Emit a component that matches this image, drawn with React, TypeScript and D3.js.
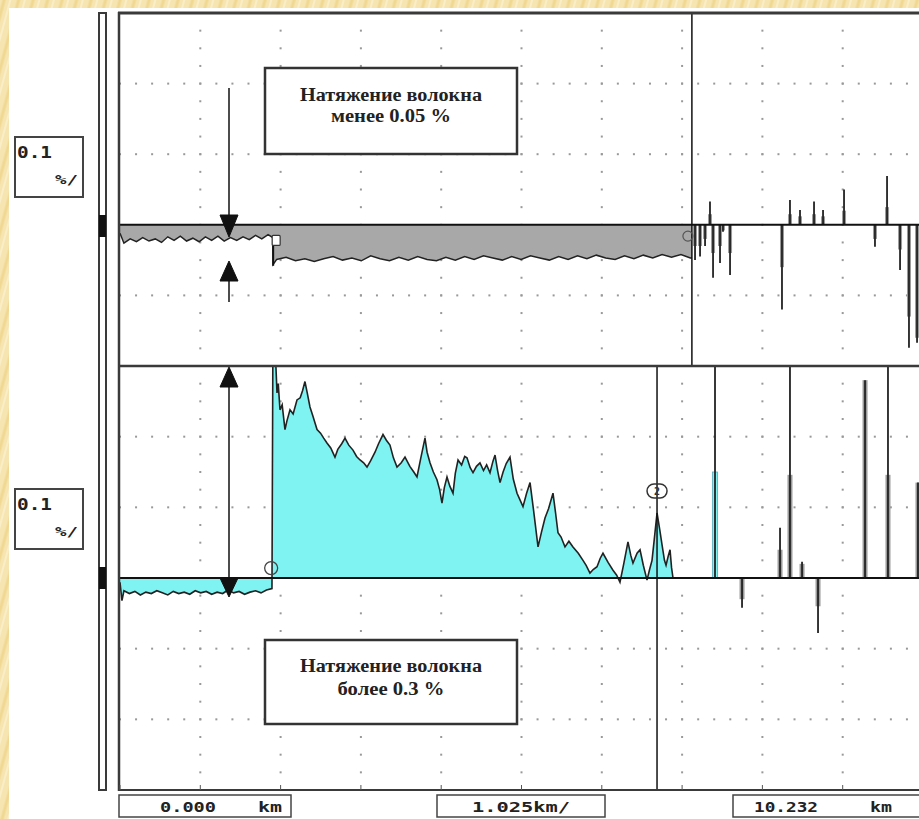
import React from 'react';
import * as d3 from 'd3';

const W = 919;
const H = 819;

// axes
const kmDomain = [0, 10.25];
const gridStepKm = 1.025;
const topDomain = [-0.2, 0.3];
const botDomain = [-0.3, 0.3];
const divPct = 0.1;
const topRows = [0.2, 0.1, -0.1];
const botRows = [0.2, 0.1, -0.1, -0.2];

// labels
const scaleLabel = ['0.1', '%/'];
const axisLabels = ['0.000', 'km', '1.025km/', '10.232', 'km'];
const topNote = ['Натяжение волокна', 'менее 0.05 %'];
const botNote = ['Натяжение волокна', 'более 0.3 %'];

// upper trace (km, %)
const topTraceKm = [
  0.0, 0.05, 0.13, 0.21, 0.29, 0.37, 0.45, 0.53, 0.61, 0.69, 0.77, 0.85, 0.93, 1.01, 1.09, 1.17, 1.25, 1.33,
  1.41, 1.49, 1.57, 1.65, 1.73, 1.81, 1.89, 1.95, 1.955,
  2.0, 2.12, 2.24, 2.36, 2.48, 2.6, 2.72, 2.84, 2.96, 3.08, 3.2, 3.32, 3.44, 3.56, 3.68, 3.8, 3.92, 4.04,
  4.16, 4.28, 4.4, 4.52, 4.64, 4.76, 4.88, 5.0, 5.12, 5.24, 5.36, 5.48, 5.6, 5.72, 5.84, 5.96, 6.08, 6.2,
  6.32, 6.44, 6.56, 6.68, 6.8, 6.92, 7.04, 7.16, 7.28, 7.3,
];
const topTraceVal = [
  -0.012, -0.026, -0.02, -0.024, -0.018, -0.023, -0.02, -0.025, -0.017, -0.022, -0.016, -0.023, -0.019, -0.024,
  -0.017, -0.022, -0.016, -0.023, -0.018, -0.022, -0.017, -0.021, -0.015, -0.02, -0.014, -0.018, -0.056,
  -0.049, -0.046, -0.051, -0.048, -0.052, -0.048, -0.045, -0.05, -0.047, -0.051, -0.044, -0.048, -0.051, -0.046,
  -0.05, -0.045, -0.049, -0.051, -0.046, -0.05, -0.045, -0.049, -0.044, -0.047, -0.05, -0.045, -0.049, -0.044,
  -0.047, -0.05, -0.045, -0.049, -0.044, -0.048, -0.043, -0.047, -0.049, -0.044, -0.048, -0.043, -0.047, -0.042,
  -0.046, -0.042, -0.047, -0.047,
];

// upper spikes after cursor 1
const topSpikeKm = [7.34, 7.404, 7.468, 7.531, 7.57, 7.659, 7.697, 7.787, 8.45, 8.552, 8.68, 8.859, 8.974, 9.242, 9.637, 9.791, 9.957, 10.071, 10.174];
const topSpikeVal = [-0.05, -0.045, -0.03, 0.033, -0.075, -0.054, -0.01, -0.071, -0.12, 0.035, 0.021, 0.033, 0.021, 0.05, -0.031, 0.069, -0.064, -0.174, -0.167];
const topSpikeBar = [-0.03, -0.03, -0.02, 0.015, -0.04, -0.03, -0.008, -0.04, -0.06, 0.015, 0.012, 0.015, 0.012, 0.02, -0.02, 0.025, -0.035, -0.13, -0.16];

// lower trace (km, %)
const botTraceKm = [
  0.0, 0.025, 0.05, 0.12, 0.19, 0.26, 0.33, 0.4, 0.47, 0.54, 0.61, 0.68, 0.75, 0.82, 0.89, 0.96, 1.03, 1.1, 1.17,
  1.24, 1.31, 1.38, 1.45, 1.52, 1.59, 1.66, 1.73, 1.8, 1.87, 1.94, 1.952, 1.975, 1.99, 2.004, 2.02, 2.042, 2.07,
  2.106, 2.13, 2.17, 2.21, 2.259, 2.3, 2.33, 2.361, 2.39, 2.425, 2.46, 2.515, 2.56, 2.6, 2.642, 2.69, 2.744, 2.78,
  2.83, 2.872, 2.92, 2.974, 3.02, 3.064, 3.11, 3.153, 3.2, 3.255, 3.3, 3.357, 3.4, 3.446, 3.49, 3.536, 3.59, 3.638,
  3.7, 3.75, 3.791, 3.84, 3.893, 3.92, 3.957, 4.0, 4.046, 4.08, 4.11, 4.14, 4.174, 4.21, 4.251, 4.28, 4.315, 4.36,
  4.4, 4.429, 4.47, 4.506, 4.55, 4.595, 4.64, 4.68, 4.723, 4.76, 4.787, 4.82, 4.851, 4.89, 4.93, 4.978, 5.02, 5.068,
  5.1, 5.144, 5.19, 5.234, 5.28, 5.336, 5.38, 5.425, 5.47, 5.527, 5.56, 5.591, 5.63, 5.68, 5.73, 5.782, 5.85, 5.91,
  5.95, 5.999, 6.04, 6.089, 6.13, 6.165, 6.23, 6.293, 6.34, 6.382, 6.43, 6.484, 6.52, 6.548, 6.6, 6.638, 6.68, 6.727,
  6.76, 6.791, 6.82, 6.855, 6.89, 6.919, 6.95, 6.97, 7.0, 7.021, 7.04, 7.059,
];
const botTraceVal = [
  -0.006, -0.032, -0.018, -0.022, -0.019, -0.024, -0.02, -0.022, -0.018, -0.021, -0.024, -0.019, -0.022, -0.02,
  -0.023, -0.018, -0.021, -0.019, -0.023, -0.02, -0.022, -0.017, -0.021, -0.019, -0.023, -0.02, -0.018, -0.021,
  -0.017, -0.015, 0.34, 0.33, 0.3, 0.262, 0.275, 0.238, 0.245, 0.21, 0.222, 0.238, 0.232, 0.252, 0.255, 0.265,
  0.278, 0.262, 0.242, 0.23, 0.21, 0.205, 0.198, 0.191, 0.184, 0.171, 0.182, 0.19, 0.198, 0.188, 0.181, 0.172,
  0.167, 0.163, 0.157, 0.166, 0.178, 0.19, 0.203, 0.195, 0.188, 0.17, 0.157, 0.163, 0.171, 0.158, 0.15, 0.143,
  0.17, 0.198, 0.178, 0.163, 0.15, 0.139, 0.125, 0.106, 0.128, 0.143, 0.13, 0.12, 0.148, 0.167, 0.16, 0.172, 0.17,
  0.156, 0.149, 0.158, 0.163, 0.152, 0.16, 0.149, 0.165, 0.174, 0.152, 0.135, 0.15, 0.162, 0.171, 0.14, 0.12,
  0.112, 0.101, 0.12, 0.135, 0.095, 0.044, 0.065, 0.085, 0.098, 0.12, 0.092, 0.064, 0.058, 0.044, 0.052, 0.044,
  0.035, 0.025, 0.018, 0.007, 0.012, 0.016, 0.028, 0.035, 0.022, 0.011, 0.004, -0.006, 0.02, 0.051, 0.032, 0.021,
  0.035, 0.04, 0.018, -0.003, 0.012, 0.025, 0.055, 0.092, 0.068, 0.047, 0.025, 0.018, 0.032, 0.04, 0.015, 0.0,
];

// lower spikes
const botSpikeKm = [7.595, 7.94, 8.425, 8.552, 8.706, 8.91, 9.51, 9.803, 10.186];
const botSpikePeak = [0.32, -0.042, 0.071, 0.32, 0.023, -0.078, 0.28, 0.32, 0.135];
const botSpikeBar = [0.15, -0.03, 0.04, 0.146, 0.02, -0.04, 0.28, 0.146, 0.135];
const botSpikeCyan = [true, false, false, false, false, false, false, false, false];

// cursors (km)
const cursor1Km = 7.3;
const cursor2Km = 6.855;
const marker1Km = 1.955;

const CYAN = '#7ff2f2';
const GREY = '#a8a8a8';
const FRAME = '#3a3a3a';

export default function App() {
  const x = d3.scaleLinear().domain(kmDomain).range([120, 923]);
  const yT = d3.scaleLinear().domain(topDomain).range([366, 13]);
  const yB = d3.scaleLinear().domain(botDomain).range([790, 366]);

  const topPts = topTraceKm.map((k, i) => [k, topTraceVal[i]] as [number, number]);
  const botPts = botTraceKm.map((k, i) => [k, botTraceVal[i]] as [number, number]);

  const areaT = d3.area<[number, number]>().x(d => x(d[0])).y0(yT(0)).y1(d => yT(d[1]));
  const lineT = d3.line<[number, number]>().x(d => x(d[0])).y(d => yT(d[1]));
  const areaB = d3.area<[number, number]>().x(d => x(d[0])).y0(yB(0)).y1(d => yB(d[1]));
  const lineB = d3.line<[number, number]>().x(d => x(d[0])).y(d => yB(d[1]));

  const cols = d3.range(1, 10).map(i => i * gridStepKm);
  const dots: { x: number; y: number }[] = [];
  cols.forEach(k => {
    for (let v = topDomain[0]; v <= topDomain[1] + 1e-9; v += divPct / 4) dots.push({ x: x(k), y: yT(v) });
    for (let v = botDomain[0]; v <= botDomain[1] + 1e-9; v += divPct / 4) dots.push({ x: x(k), y: yB(v) });
  });
  const rowKm = d3.range(0, kmDomain[1] + 1e-9, gridStepKm / 5);
  topRows.forEach(v => rowKm.forEach(k => dots.push({ x: x(k), y: yT(v) })));
  botRows.forEach(v => rowKm.forEach(k => dots.push({ x: x(k), y: yB(v) })));

  const ticks = d3.range(0, 11).map(i => x(i * gridStepKm));

  return (
    <div style={{ position: 'fixed', left: 0, top: 0 }}>
      <svg width={W} height={H} style={{ display: 'block' }}>
        <defs>
          <pattern id="wood" width="14" height="14" patternUnits="userSpaceOnUse" patternTransform="rotate(15)">
            <rect width="14" height="14" fill="#f6e5b0" />
            <line x1="4" y1="0" x2="4" y2="14" stroke="#f0d892" strokeWidth="3" />
            <line x1="10" y1="0" x2="10" y2="14" stroke="#faeec8" strokeWidth="2" />
          </pattern>
          <clipPath id="clipTop">
            <rect x={120} y={13} width={803} height={353} />
          </clipPath>
          <clipPath id="clipBot">
            <rect x={120} y={366} width={803} height={424} />
          </clipPath>
        </defs>
        <rect width={W} height={H} fill="url(#wood)" />
        <rect x={9} y={8} width={W - 9} height={H - 8} fill="#fff" />

        {/* grid dots */}
        {dots.map((d, i) => (
          <rect key={i} x={d.x - 1} y={d.y - 1} width={2} height={2} fill="#999" />
        ))}

        {/* upper panel */}
        <g clipPath="url(#clipTop)">
          <path d={areaT(topPts) || ''} fill={GREY} />
          <path d={lineT(topPts) || ''} fill="none" stroke="#222" strokeWidth={1.5} />
          <line x1={x(marker1Km)} x2={x(marker1Km)} y1={yT(-0.02)} y2={yT(-0.058)} stroke="#111" strokeWidth={2} />
          {topSpikeKm.map((k, i) => (
            <g key={i}>
              <rect
                x={x(k) - 2}
                y={Math.min(yT(0), yT(topSpikeBar[i]))}
                width={4}
                height={Math.abs(yT(topSpikeBar[i]) - yT(0))}
                fill="#9a9a9a"
              />
              <line x1={x(k)} x2={x(k)} y1={yT(0)} y2={yT(topSpikeVal[i])} stroke="#222" strokeWidth={1.8} />
            </g>
          ))}
          <line x1={120} x2={923} y1={yT(0)} y2={yT(0)} stroke="#111" strokeWidth={2} />
        </g>

        {/* lower panel */}
        <g clipPath="url(#clipBot)">
          <path d={areaB(botPts) || ''} fill={CYAN} />
          <path d={lineB(botPts) || ''} fill="none" stroke="#222" strokeWidth={1.6} />
          {botSpikeKm.map((k, i) => (
            <g key={i}>
              <rect
                x={x(k) - 2.5}
                y={Math.min(yB(0), yB(botSpikeBar[i]))}
                width={5}
                height={Math.abs(yB(botSpikeBar[i]) - yB(0))}
                fill={botSpikeCyan[i] ? CYAN : '#9a9a9a'}
                stroke={botSpikeCyan[i] ? '#5ab' : 'none'}
                strokeWidth={0.8}
              />
              <line x1={x(k)} x2={x(k)} y1={yB(0)} y2={yB(botSpikePeak[i])} stroke="#222" strokeWidth={1.8} />
            </g>
          ))}
          <line x1={120} x2={923} y1={yB(0)} y2={yB(0)} stroke="#111" strokeWidth={2} />
        </g>

        {/* cursors */}
        <line x1={x(cursor1Km)} x2={x(cursor1Km)} y1={13} y2={366} stroke="#111" strokeWidth={1.5} />
        <line x1={x(cursor2Km)} x2={x(cursor2Km)} y1={366} y2={790} stroke="#111" strokeWidth={1.5} />

        {/* markers */}
        <rect x={x(marker1Km) - 1} y={yT(-0.015)} width={8} height={10} fill="#fff" stroke="#333" strokeWidth={1.2} rx={1} />
        <circle cx={x(cursor1Km) - 4} cy={yT(-0.016)} r={5} fill="none" stroke="#555" strokeWidth={1.2} />
        <circle cx={x(marker1Km) - 2} cy={yB(0.014)} r={6.5} fill="none" stroke="#444" strokeWidth={1.3} />
        <rect x={x(cursor2Km) - 10} y={yB(0.133)} width={20} height={14} rx={7} fill="none" stroke="#333" strokeWidth={1.5} />
        <text x={x(cursor2Km)} y={yB(0.133) + 11} fontSize={10} fontFamily="DejaVu Sans Mono" fontWeight="bold" textAnchor="middle" fill="#333">2</text>

        {/* arrows */}
        <g fill="#111" stroke="#111">
          <line x1={229} x2={229} y1={88} y2={220} strokeWidth={1.5} />
          <path d="M220,215 L238,215 L229,237 Z" />
          <line x1={229} x2={229} y1={275} y2={302} strokeWidth={1.5} />
          <path d="M229,261 L238,281 L220,281 Z" />
          <line x1={229} x2={229} y1={380} y2={585} strokeWidth={1.5} />
          <path d="M229,367 L238,387 L220,387 Z" />
          <path d="M220,578 L238,578 L229,597 Z" />
        </g>

        {/* frame */}
        <g fill="none" stroke={FRAME}>
          <line x1={119} x2={119} y1={12} y2={791} strokeWidth={2.5} />
          <line x1={118} x2={W} y1={13} y2={13} strokeWidth={3} />
          <line x1={118} x2={W} y1={366} y2={366} strokeWidth={2.5} />
          <line x1={118} x2={W} y1={790} y2={790} strokeWidth={2} />
          <rect x={99} y={13} width={7} height={777} strokeWidth={2} />
        </g>
        {ticks.map((t, i) => (
          <line key={i} x1={t} x2={t} y1={785} y2={790} stroke="#555" strokeWidth={1} />
        ))}
        <rect x={99} y={215} width={7} height={22} fill="#111" />
        <rect x={99} y={567} width={7} height={22} fill="#111" />

        {/* scale boxes */}
        {[137, 489].map((y0, i) => (
          <g key={i}>
            <rect x={15} y={y0} width={68} height={60} fill="#fff" stroke="#444" strokeWidth={2} />
            <text x={17} y={y0 + 21} fontFamily="DejaVu Sans Mono" fontWeight="bold" fontSize={15} fill="#222" textLength={35} lengthAdjust="spacingAndGlyphs">{scaleLabel[0]}</text>
            <text x={55} y={y0 + 47} fontFamily="DejaVu Sans Mono" fontWeight="bold" fontSize={13} fill="#222" textLength={23} lengthAdjust="spacingAndGlyphs">{scaleLabel[1]}</text>
          </g>
        ))}

        {/* bottom axis boxes */}
        <g fontFamily="DejaVu Sans Mono" fontWeight="bold" fontSize={14} fill="#222">
          <rect x={119} y={795} width={172} height={22} fill="#fff" stroke="#444" strokeWidth={1.5} />
          <text x={160} y={812} textLength={56} lengthAdjust="spacingAndGlyphs">{axisLabels[0]}</text>
          <text x={258} y={812} textLength={24} lengthAdjust="spacingAndGlyphs">{axisLabels[1]}</text>
          <rect x={437} y={795} width={168} height={22} fill="#fff" stroke="#444" strokeWidth={1.5} />
          <text x={472} y={812} textLength={98} lengthAdjust="spacingAndGlyphs">{axisLabels[2]}</text>
          <rect x={733} y={795} width={190} height={22} fill="#fff" stroke="#444" strokeWidth={1.5} />
          <text x={754} y={812} textLength={64} lengthAdjust="spacingAndGlyphs">{axisLabels[3]}</text>
          <text x={870} y={812} textLength={22} lengthAdjust="spacingAndGlyphs">{axisLabels[4]}</text>
        </g>

        {/* notes */}
        <g fontFamily="Liberation Serif, DejaVu Serif, serif" fontSize={18} fill="#222" textAnchor="middle">
          <rect x={265} y={68} width={252} height={86} fill="#fff" stroke="#333" strokeWidth={2.5} />
          <text x={391} y={101} textLength={182} lengthAdjust="spacingAndGlyphs" fontWeight="bold">{topNote[0]}</text>
          <text x={391} y={122} textLength={120} lengthAdjust="spacingAndGlyphs" fontWeight="bold">{topNote[1]}</text>
          <rect x={265} y={640} width={252} height={84} fill="#fff" stroke="#333" strokeWidth={2.5} />
          <text x={391} y={672} textLength={182} lengthAdjust="spacingAndGlyphs" fontWeight="bold">{botNote[0]}</text>
          <text x={391} y={695} textLength={107} lengthAdjust="spacingAndGlyphs" fontWeight="bold">{botNote[1]}</text>
        </g>
      </svg>
    </div>
  );
}
